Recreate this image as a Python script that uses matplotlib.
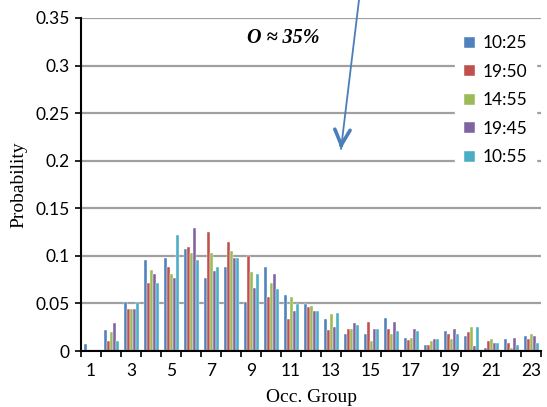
import numpy as np
import matplotlib

matplotlib.use("Agg")
import matplotlib.pyplot as plt
from matplotlib.patches import FancyArrowPatch

# Occupancy-group probability per capture time
groups = np.arange(1, 24)
series_labels = ["10:25", "19:50", "14:55", "19:45", "10:55"]
colors = ["#4F81BD", "#C0504D", "#9BBB59", "#8064A2", "#4BACC6"]

p_1025 = [0.0074, 0.0217, 0.0514, 0.0960, 0.0976, 0.1070, 0.0770, 0.0886, 0.0514, 0.0885, 0.0587, 0.0493,
          0.0332, 0.0178, 0.0178, 0.0347, 0.0140, 0.0067, 0.0214, 0.0158, 0.0028, 0.0123, 0.0158]
p_1950 = [0.0015, 0.0105, 0.0437, 0.0717, 0.0885, 0.1090, 0.1255, 0.1150, 0.0997, 0.0570, 0.0332, 0.0458,
          0.0217, 0.0234, 0.0308, 0.0235, 0.0120, 0.0067, 0.0179, 0.0196, 0.0102, 0.0084, 0.0123]
p_1455 = [0.0015, 0.0196, 0.0437, 0.0850, 0.0810, 0.1030, 0.1035, 0.1050, 0.0830, 0.0717, 0.0570, 0.0476,
          0.0385, 0.0234, 0.0105, 0.0175, 0.0140, 0.0102, 0.0123, 0.0249, 0.0123, 0.0028, 0.0179]
p_1945 = [0.0015, 0.0290, 0.0437, 0.0810, 0.0770, 0.1290, 0.0840, 0.0980, 0.0660, 0.0810, 0.0420, 0.0420,
          0.0252, 0.0290, 0.0234, 0.0305, 0.0235, 0.0123, 0.0235, 0.0049, 0.0084, 0.0140, 0.0158]
p_1055 = [0.0010, 0.0105, 0.0514, 0.0717, 0.1220, 0.0960, 0.0885, 0.0980, 0.0810, 0.0647, 0.0493, 0.0420,
          0.0402, 0.0273, 0.0234, 0.0214, 0.0214, 0.0123, 0.0175, 0.0249, 0.0084, 0.0067, 0.0088]
series = [p_1025, p_1950, p_1455, p_1945, p_1055]

W, H = 547, 407
fig = plt.figure(figsize=(W / 100, H / 100), dpi=100)
ax = fig.add_axes([81 / W, 1 - 351 / H, 460 / W, 333 / H])

bar_w = 0.15
for i, (vals, label, color) in enumerate(zip(series, series_labels, colors)):
    offset = (i - 2) * bar_w
    ax.bar(groups + offset, vals, width=bar_w, color=color, edgecolor="white",
           linewidth=0.3, label=label, zorder=3)

ax.set_xlim(0.5, 23.5)
ax.set_ylim(0, 0.35)
ax.set_yticks(np.arange(0, 0.351, 0.05))
ax.set_yticklabels(["0", "0.05", "0.1", "0.15", "0.2", "0.25", "0.3", "0.35"])
ax.set_xticks(groups[::2])
ax.set_xticks(np.arange(0.5, 24, 1.0), minor=True)
ax.tick_params(axis="x", which="major", length=0, pad=9, labelsize=12.5)
ax.tick_params(axis="x", which="minor", length=4, width=1.2, direction="out")
ax.tick_params(axis="y", length=4, width=1.2, pad=4, labelsize=12.5)
for lab in ax.get_xticklabels() + ax.get_yticklabels():
    lab.set_family("Lato")

ax.yaxis.grid(True, color="#A0A0A0", linewidth=1.6, zorder=0)
ax.set_axisbelow(True)
for side in ("top", "right"):
    ax.spines[side].set_visible(False)
for side in ("left", "bottom"):
    ax.spines[side].set_linewidth(1.5)
    ax.spines[side].set_zorder(4)

ax.set_ylabel("Probability", family="Liberation Serif", fontsize=14, labelpad=6)
ax.set_xlabel("Occ. Group", family="Liberation Serif", fontsize=14, labelpad=7)

leg = ax.legend(loc="upper right", bbox_to_anchor=(1.0, 0.99), frameon=True, fancybox=False,
                edgecolor="white", framealpha=1.0, handlelength=0.6, handleheight=0.6,
                handletextpad=0.45, labelspacing=0.72, borderpad=0.5, borderaxespad=0.3,
                prop={"family": "Lato", "size": 12.5})
leg.set_zorder(5)

ax.text(0.439, 0.94, "O \u2248 35%", transform=ax.transAxes, family="Liberation Serif",
        fontsize=14.5, fontweight="bold", style="italic", ha="center", va="center")

# arrow: thin shaft from the top edge, heavier V head at the tip
tip = (341 / W, 1 - 149 / H)
shaft = FancyArrowPatch((359 / W, 1.0), tip, transform=fig.transFigure,
                        arrowstyle="-", color="#4A7EBB", linewidth=1.3, zorder=6,
                        shrinkA=0, shrinkB=0)
head = FancyArrowPatch((341.3 / W, 1 - 145 / H), tip, transform=fig.transFigure,
                       arrowstyle="->,head_length=11,head_width=5.5", color="#4A7EBB",
                       linewidth=2.6, zorder=6, shrinkA=0, shrinkB=0)
fig.patches.append(shaft)
fig.patches.append(head)

fig.savefig("out.png", dpi=100, facecolor="white")
